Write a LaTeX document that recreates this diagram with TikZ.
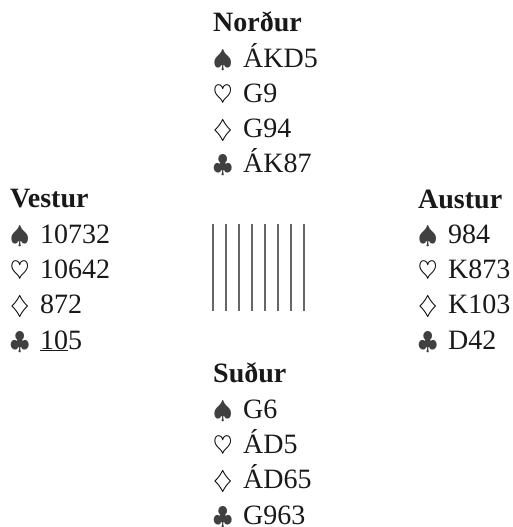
\documentclass[tikz,border=0pt]{standalone}
\usepackage{fontspec}
\setmainfont{Liberation Serif}

% suit symbol with a fixed width, optional colour
\newcommand{\suit}[2][black]{\makebox[30pt][l]{\fontsize{23}{23}\selectfont\color{#1}$#2$}}
\newcommand{\spadi}{\suit[black!75]{\spadesuit}}
\newcommand{\hjarta}{\suit{\heartsuit}}
\newcommand{\tigull}{\suit{\diamondsuit}}
\newcommand{\lauf}{\suit[black!75]{\clubsuit}}

\begin{document}
\begin{tikzpicture}[
      x=1pt,y=-1pt,
      hand/.style={
         anchor=base west,% base = last line
         inner sep=0pt,
         align=left,
         text=black!90,
         font=\fontsize{28}{35.3}\selectfont},
      bar/.style={draw=black!60, line width=1.3pt}
      ]
      \useasboundingbox (0,0) rectangle (513,527);

      \node[hand] (nordur) at (213,172.9) {\textbf{Norður}\\ \spadi ÁKD5\\ \hjarta G9\\ \tigull G94\\ \lauf ÁK87};
      \node[hand] (vestur) at (10,349) {\textbf{Vestur}\\ \spadi 10732\\ \hjarta 10642\\ \tigull 872\\ \lauf \underline{10}5};
      \node[hand] (austur) at (418,349.2) {\textbf{Austur}\\ \spadi 984\\ \hjarta K873\\ \tigull K103\\ \lauf D42};
      \node[hand] (sudur) at (213,524) {\textbf{Suður}\\ \spadi G6\\ \hjarta ÁD5\\ \tigull ÁD65\\ \lauf G963};

    % the table in the middle
    \foreach \i in {0,...,7}
       \draw[bar] (213+13*\i,224) -- (213+13*\i,311);

    \end{tikzpicture}
\end{document}
